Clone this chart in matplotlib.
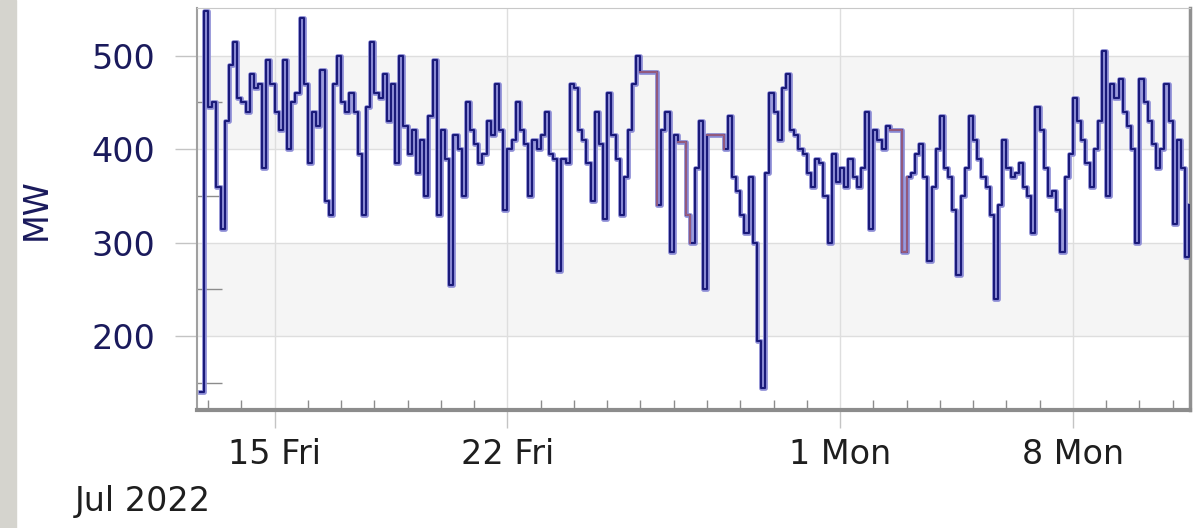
import numpy as np
import pandas as pd
import matplotlib
matplotlib.use("Agg")
import matplotlib.pyplot as plt
import matplotlib.dates as mdates
from matplotlib.patches import Rectangle
from matplotlib.ticker import FuncFormatter

mw = [
    # 12 Jul 18h .. 16 Jul 21h
    140, 548, 445, 450, 360, 315, 430, 490, 515, 455, 450, 440, 480, 465, 470, 380,
    495, 470, 440, 420, 495, 400, 450, 460, 540, 470, 385, 440, 425, 485, 345, 330,
    470, 500,
    # 17 Jul 00h .. 21 Jul 03h
    450, 440, 460, 440, 395, 330, 445, 515, 460, 455, 480, 430, 470, 385, 500, 425,
    395, 420, 375, 410, 350, 435, 495, 330, 420, 390, 255, 415, 400, 350, 450, 420,
    405, 385,
    # 21 Jul 06h .. 25 Jul 09h
    395, 430, 415, 470, 420, 335, 400, 410, 450, 420, 405, 350, 410, 400, 415, 440,
    395, 390, 270, 390, 385, 470, 465, 420, 410, 385, 345, 440, 405, 325, 460, 415,
    390, 330,
    # 25 Jul 12h .. 29 Jul 15h
    370, 420, 470, 500, 483, 483, 483, 483, 340, 420, 440, 290, 415, 408, 408, 330,
    300, 380, 430, 250, 415, 415, 415, 415, 400, 435, 370, 355, 330, 310, 370, 300,
    195, 145,
    # 29 Jul 18h .. 3 Aug 00h
    375, 460, 440, 410, 465, 480, 420, 415, 400, 395, 375, 360, 390, 385, 350, 300,
    395, 365, 380, 360, 390, 370, 360, 380, 440, 315, 420, 410, 400, 425, 421, 421,
    421, 290, 370,
    # 3 Aug 03h .. 7 Aug 06h
    375, 395, 405, 370, 280, 360, 400, 435, 380, 370, 335, 265, 350, 380, 435, 410,
    390, 370, 360, 330, 240, 340, 410, 380, 370, 375, 385, 360, 350, 310, 445, 420,
    380, 350,
    # 7 Aug 09h .. 11 Aug 12h
    355, 335, 290, 370, 395, 455, 430, 410, 385, 360, 400, 430, 505, 350, 470, 455,
    475, 440, 425, 400, 300, 475, 450, 430, 405, 380, 400, 470, 430, 320, 410, 380,
    285, 340,
]
times = pd.date_range("2022-07-12 18:00", periods=len(mw), freq="3h")

# stretches where the logger had no data and the trend just holds the last value
gap_windows = [
    ("2022-07-26 00:00", "2022-07-26 12:00"),
    ("2022-07-27 03:00", "2022-07-27 12:00"),
    ("2022-07-28 00:00", "2022-07-28 12:00"),
    ("2022-08-02 12:00", "2022-08-03 00:00"),
]

major_days = ["2022-07-15", "2022-07-22", "2022-08-01", "2022-08-08"]
y_major = [200, 300, 400, 500]
y_minor = [150, 250, 350, 450]

navy = "#1a1a7a"
mw = np.array(mw, dtype=float)

fig = plt.figure(figsize=(12.03, 5.28), dpi=100)
fig.patches.append(Rectangle((0, 0), 16 / 1203, 1, transform=fig.transFigure,
                             color="#d5d4ce", zorder=0))
ax = fig.add_axes([197 / 1203, 1 - 410 / 528, 993 / 1203, 402 / 528])

ax.axhspan(400, 500, color="#f5f5f5", zorder=0, lw=0)
ax.axhspan(200, 300, color="#f5f5f5", zorder=0, lw=0)

# light envelope under the main trace
ax.plot(times, mw, drawstyle="steps-post", color="#8e8ed6", lw=3.4, zorder=2)
ax.plot(times, mw, drawstyle="steps-post", color=navy, lw=1.5, zorder=3)

for a, b in gap_windows:
    m = (times >= pd.Timestamp(a)) & (times <= pd.Timestamp(b))
    ax.plot(times[m], mw[m], drawstyle="steps-post", color="#a0607e", lw=1.3, zorder=4)

ax.set_xlim(pd.Timestamp("2022-07-12 16:00"), pd.Timestamp("2022-08-11 12:30"))
ax.set_ylim(121, 551)

ax.set_yticks(y_major)
ax.set_yticks(y_minor, minor=True)
ax.set_xticks([pd.Timestamp(d) for d in major_days])
ax.xaxis.set_minor_locator(mdates.DayLocator())
ax.xaxis.set_major_formatter(FuncFormatter(
    lambda v, p: "{} {}".format(mdates.num2date(v).day, mdates.num2date(v).strftime("%a"))))

ax.grid(which="major", color="#dedede", lw=1, zorder=1)
ax.tick_params(axis="y", which="major", direction="out", length=16, width=1,
               color="#c4c4c4", pad=14, labelsize=24, labelcolor="#1a1a5c")
ax.tick_params(axis="y", which="minor", direction="in", length=18, width=1, color="#8c8c8c")
ax.tick_params(axis="x", which="major", direction="out", length=13, width=1,
               color="#c4c4c4", pad=7, labelsize=24, labelcolor="#1e1e1e")
ax.tick_params(axis="x", which="minor", direction="in", length=7, width=1, color="#8c8c8c")

ax.spines["top"].set_color("#c8c8c8")
ax.spines["left"].set_color("#a0a0a0")
ax.spines["left"].set_linewidth(1.5)
ax.spines["bottom"].set_color("#8c8c8c")
ax.spines["bottom"].set_linewidth(3)
ax.spines["right"].set_color("#909090")
ax.spines["right"].set_linewidth(2.5)

ax.set_ylabel("MW", fontsize=24, color="#1a1a5c", labelpad=28)
fig.text(75 / 1203, 1 - 502 / 528, "Jul 2022", fontsize=24, color="#1e1e1e",
         ha="left", va="center")

fig.savefig("out.png", dpi=100)
